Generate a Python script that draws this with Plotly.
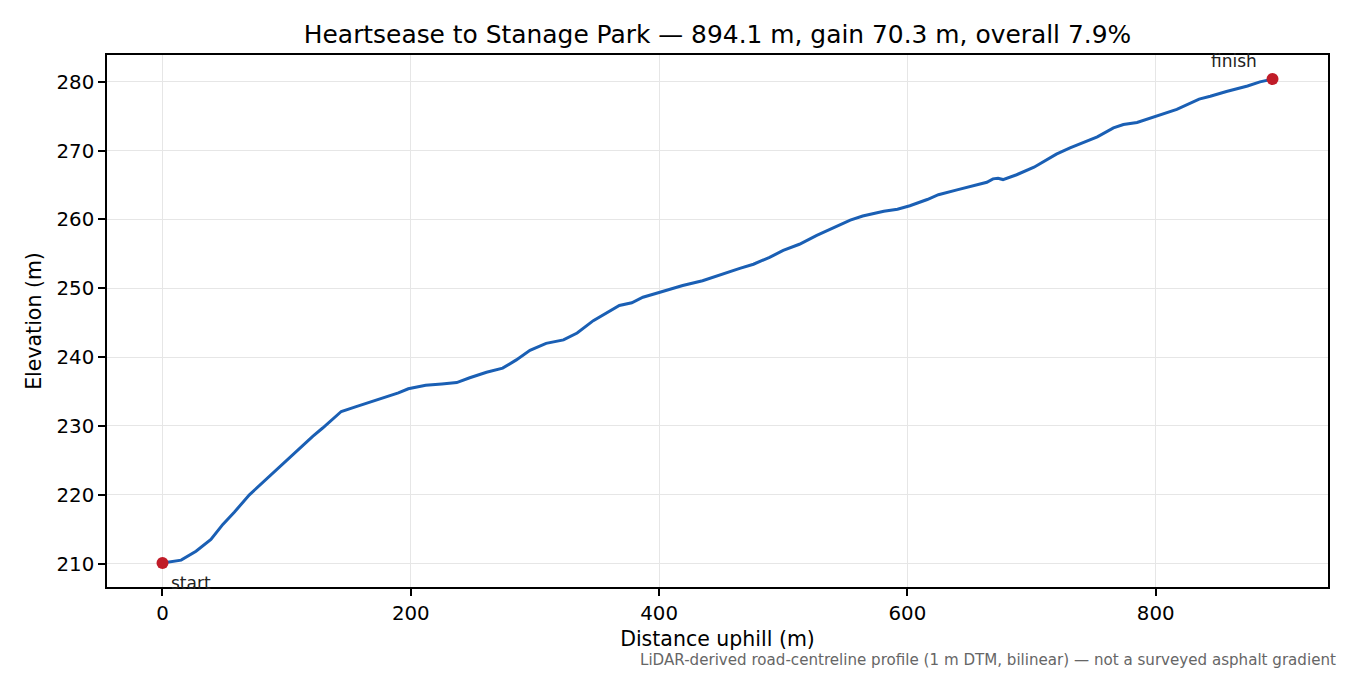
import plotly.graph_objects as go

# road profile (distance uphill in m, elevation in m)
distance_m = [0, 15, 27, 39, 48.6, 58, 70, 82, 94.3, 106, 113, 121, 129, 137, 144,
              156, 168, 178, 190, 198, 212, 225, 237, 247.5, 261, 274, 285, 296,
              309, 323, 334, 347, 360, 368, 378, 387, 400, 419, 435, 446, 465,
              476, 489, 500, 513, 527, 540, 554, 564, 581, 592, 602, 616, 625,
              640, 655, 664, 669, 673, 677, 688, 702, 720, 731, 753, 766, 774,
              785, 801, 817, 835, 844, 857, 874, 884, 894.1]
elevation_m = [210.1, 210.5, 211.8, 213.5, 215.7, 217.5, 220.0, 222.0, 224.1, 226.1,
               227.3, 228.5, 229.7, 231.0, 232.1, 232.8, 233.5, 234.1, 234.8, 235.4,
               235.9, 236.1, 236.3, 237.0, 237.8, 238.4, 239.6, 241.0, 242.0, 242.5,
               243.5, 245.3, 246.6, 247.5, 247.9, 248.7, 249.4, 250.4, 251.1, 251.8,
               252.9, 253.5, 254.5, 255.5, 256.4, 257.7, 258.8, 259.9, 260.5, 261.2,
               261.5, 262.0, 262.9, 263.6, 264.3, 265.0, 265.4, 265.9, 266.0, 265.8,
               266.5, 267.6, 269.5, 270.4, 272.0, 273.3, 273.8, 274.1, 275.0, 276.0,
               277.5, 277.9, 278.6, 279.4, 280.0, 280.4]

end_labels = ["start", "finish"]
title_text = "Heartsease to Stanage Park \u2014 894.1 m, gain 70.3 m, overall 7.9%"
note_text = ("LiDAR-derived road-centreline profile (1 m DTM, bilinear) "
             "\u2014 not a surveyed asphalt gradient")

line_colour = "#1a5fb4"
end_colour = "#c01c28"
font_name = "DejaVu Sans"

fig = go.Figure()

fig.add_trace(go.Scatter(
    x=distance_m, y=elevation_m, mode="lines",
    line=dict(color=line_colour, width=3), showlegend=False))

# start / finish dots
fig.add_trace(go.Scatter(
    x=[distance_m[0], distance_m[-1]], y=[elevation_m[0], elevation_m[-1]],
    mode="markers", marker=dict(color=end_colour, size=12), showlegend=False))

fig.add_annotation(x=distance_m[0], y=elevation_m[0], text=end_labels[0],
                   showarrow=False, xanchor="left", yanchor="middle",
                   xshift=7, yshift=-20,
                   font=dict(size=17, color="#222222"))
fig.add_annotation(x=distance_m[-1], y=elevation_m[-1], text=end_labels[1],
                   showarrow=False, xanchor="center", yanchor="middle",
                   xshift=-39, yshift=18,
                   font=dict(size=17, color="#222222"))

fig.add_annotation(xref="paper", yref="paper", x=1.0085, y=-0.137,
                   text=note_text, showarrow=False,
                   xanchor="right", yanchor="middle",
                   font=dict(size=15.1, color="#666666"))

axis_style = dict(
    showline=True, linecolor="black", linewidth=1.5, mirror=True,
    ticks="outside", ticklen=7, tickwidth=1.5, tickcolor="black",
    showgrid=True, gridcolor="#e6e6e6", gridwidth=1.4, zeroline=False,
    tickfont=dict(size=19.8, color="black"),
)

fig.update_xaxes(
    range=[-44.7, 938.8], tickvals=[0, 200, 400, 600, 800],
    title=dict(text="Distance uphill (m)", font=dict(size=20.5), standoff=8),
    **axis_style)
fig.update_yaxes(
    range=[206.6, 283.9], tickvals=[210, 220, 230, 240, 250, 260, 270, 280],
    ticklabelstandoff=0,
    title=dict(text="Elevation (m)", font=dict(size=20.5), standoff=9),
    **axis_style)

# the page adds an 8 px body margin, so the margins are offset to compensate
fig.update_layout(
    width=1350, height=675,
    margin=dict(l=99, r=30, t=47, b=96),
    paper_bgcolor="white", plot_bgcolor="white",
    font=dict(family=font_name, color="black"),
    title=dict(text=title_text, x=0.5, xref="paper", xanchor="center",
               y=1 - 26 / 675, yref="container", yanchor="middle",
               font=dict(size=24.9)),
)

fig.write_html("out.html")
